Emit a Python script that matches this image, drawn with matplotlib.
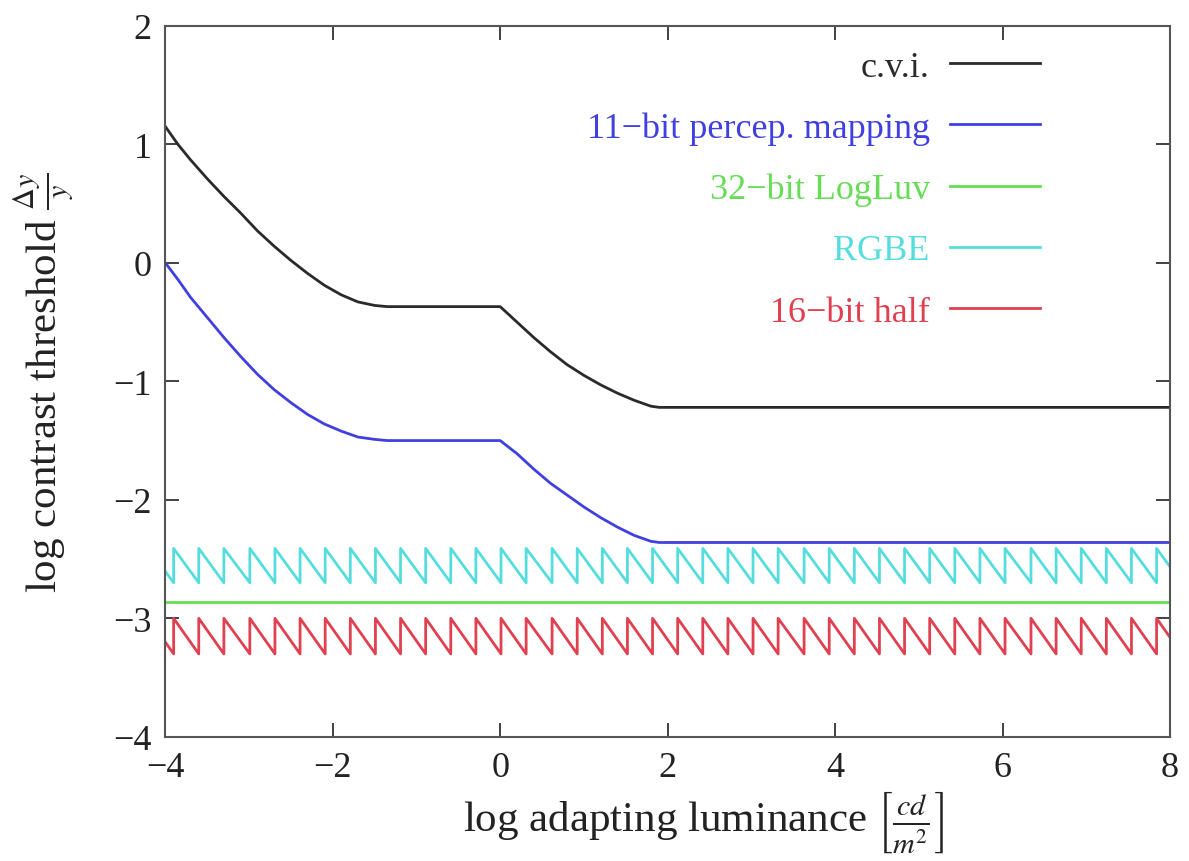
import numpy as np
import matplotlib
matplotlib.use("Agg")
import matplotlib.pyplot as plt

plt.rcParams['font.family'] = ['Liberation Serif', 'DejaVu Serif']
plt.rcParams['mathtext.fontset'] = 'stix'

# c.v.i. curve
cvi_x = [-4.0, -3.85, -3.7, -3.5, -3.3, -3.1, -2.9, -2.7, -2.5, -2.3, -2.1, -1.9, -1.7, -1.5, -1.35,
         0.0, 0.2, 0.4, 0.6, 0.8, 1.0, 1.2, 1.4, 1.6, 1.8, 1.9, 8.0]
cvi_y = [1.15, 1.00, 0.87, 0.71, 0.56, 0.42, 0.27, 0.14, 0.02, -0.09, -0.19, -0.27, -0.33, -0.36, -0.37,
         -0.37, -0.50, -0.63, -0.75, -0.86, -0.95, -1.03, -1.10, -1.16, -1.21, -1.22, -1.22]

# 11-bit perceptual mapping
pm_x = [-4.0, -3.85, -3.7, -3.5, -3.3, -3.1, -2.9, -2.7, -2.5, -2.3, -2.1, -1.9, -1.7, -1.5, -1.35,
        0.0, 0.2, 0.4, 0.6, 0.8, 1.0, 1.2, 1.4, 1.6, 1.8, 1.9, 8.0]
pm_y = [0.0, -0.14, -0.29, -0.46, -0.63, -0.79, -0.94, -1.07, -1.18, -1.28, -1.36, -1.42, -1.47, -1.49, -1.50,
        -1.50, -1.61, -1.74, -1.86, -1.96, -2.06, -2.15, -2.23, -2.30, -2.35, -2.36, -2.36]

# 32-bit LogLuv (flat)
logluv_x = [-4.0, 8.0]
logluv_y = [-2.86, -2.86]

# sawtooth jump positions shared by RGBE and half (x where the error jumps up)
jumps = [-4.20, -3.90, -3.60, -3.30, -2.99, -2.69, -2.39, -2.09, -1.79, -1.49, -1.19,
         -0.89, -0.59, -0.29, 0.01, 0.31, 0.62, 0.92, 1.22, 1.52, 1.82,
         2.12, 2.42, 2.72, 3.02, 3.32, 3.63, 3.93, 4.23, 4.53, 4.83,
         5.13, 5.43, 5.73, 6.03, 6.34, 6.64, 6.94, 7.24, 7.54, 7.84, 8.14]
rgbe_top, rgbe_bottom = -2.41, -2.70
half_top, half_bottom = -3.00, -3.30


def sawtooth(jx, top, bottom):
    # (j0, top) -> (j1, bottom) -> (j1, top) -> (j2, bottom) ...
    xs = [jx[0]]
    ys = [top]
    for j in jx[1:]:
        xs += [j, j]
        ys += [bottom, top]
    return xs, ys


fig = plt.figure(figsize=(11.89, 8.62), dpi=100)
ax = fig.add_axes([0.139, 0.144, 0.845, 0.825])

ax.plot(cvi_x, cvi_y, color='#2a2a2a', lw=2, label='c.v.i.')
ax.plot(pm_x, pm_y, color='#4040e0', lw=2, label='11\u2212bit percep. mapping')
ax.plot(logluv_x, logluv_y, color='#66dd55', lw=2, label='32\u2212bit LogLuv')
rx, ry = sawtooth(jumps, rgbe_top, rgbe_bottom)
ax.plot(rx, ry, color='#55dddd', lw=2, label='RGBE')
hx, hy = sawtooth(jumps, half_top, half_bottom)
ax.plot(hx, hy, color='#e04050', lw=2, label='16\u2212bit half')

ax.set_xlim(-4, 8)
ax.set_ylim(-4, 2)
ax.set_xticks([-4, -2, 0, 2, 4, 6, 8])
ax.set_yticks([-4, -3, -2, -1, 0, 1, 2])
ax.tick_params(direction='in', length=10, width=1.3, top=True, right=True,
               labelsize=26, pad=10, colors='#333333', labelcolor='#222222')
for s in ax.spines.values():
    s.set_color('#555555')
    s.set_linewidth(1.5)

ax.set_xlabel(r'log adapting luminance $\left[\frac{cd}{m^2}\right]$', fontsize=31, color='#222222')
ax.set_ylabel(r'log contrast threshold $\frac{\Delta y}{y}$', fontsize=31, color='#222222')
ax.xaxis.set_label_coords(0.536, -0.072)
ax.yaxis.set_label_coords(-0.09, 0.5)

leg = ax.legend(loc='upper right', frameon=False, markerfirst=False, fontsize=26,
                labelcolor='linecolor', handlelength=2.5, labelspacing=0.77,
                borderaxespad=3.6, handletextpad=0.55, borderpad=0.0)
# legend sits higher than the default pad allows
leg.set_bbox_to_anchor((1.0, 1.148), transform=ax.transAxes)

fig.savefig('out.png', dpi=100)
